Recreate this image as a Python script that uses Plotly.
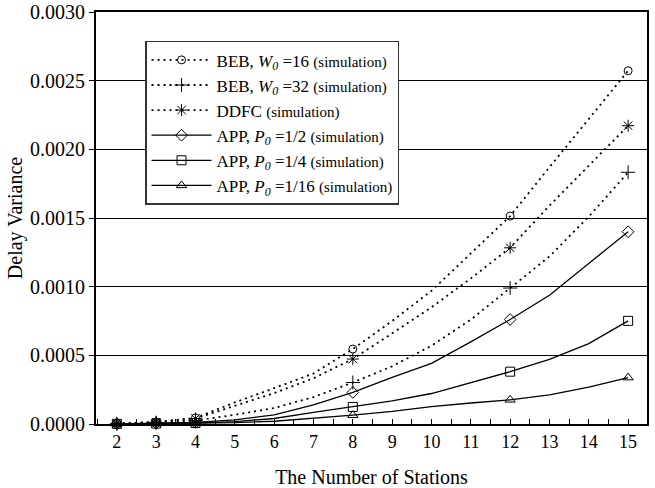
import plotly.graph_objects as go

stations = [2, 3, 4, 5, 6, 7, 8, 9, 10, 11, 12, 13, 14, 15]
marker_stations = [2, 3, 4, 8, 12, 15]

beb16 = [0.000003, 0.000015, 0.000045, 0.000157, 0.000261, 0.000368, 0.000546, 0.00075, 0.00097, 0.00124, 0.001514, 0.00187, 0.00222, 0.002572]
beb32 = [0.000002, 0.00001, 0.000025, 0.000067, 0.000116, 0.000196, 0.000302, 0.00042, 0.00057, 0.00076, 0.00099, 0.00122, 0.00151, 0.001833]
ddfc = [0.000003, 0.000013, 0.00004, 0.000133, 0.000225, 0.000333, 0.000473, 0.00066, 0.00085, 0.00106, 0.001283, 0.00159, 0.00188, 0.002172]
app2 = [0.000001, 0.000005, 0.000012, 0.00003, 0.000067, 0.00014, 0.00023, 0.00034, 0.000441, 0.000598, 0.000761, 0.000938, 0.00117, 0.0014]
app4 = [0.000001, 0.000003, 0.000007, 0.000018, 0.00004, 0.000084, 0.000124, 0.000168, 0.000222, 0.0003, 0.000381, 0.00047, 0.000585, 0.000751]
app16 = [0.0000005, 0.000002, 0.000004, 0.00001, 0.00002, 0.00004, 0.000064, 0.000092, 0.000127, 0.000153, 0.000176, 0.000212, 0.000268, 0.000338]

names = [
    "BEB, <i>W<sub>0</sub></i> =16 <span style='font-size:15px'>(simulation)</span>",
    "BEB, <i>W<sub>0</sub></i> =32 <span style='font-size:15px'>(simulation)</span>",
    "DDFC <span style='font-size:15px'>(simulation)</span>",
    "APP, <i>P<sub>0</sub></i> =1/2 <span style='font-size:15px'>(simulation)</span>",
    "APP, <i>P<sub>0</sub></i> =1/4 <span style='font-size:15px'>(simulation)</span>",
    "APP, <i>P<sub>0</sub></i> =1/16 <span style='font-size:15px'>(simulation)</span>",
]
series = [beb16, beb32, ddfc, app2, app4, app16]
symbols = ["circle-open", "cross-thin-open", "asterisk-open", "diamond-open", "square-open", "triangle-up-open"]
dashes = ["2px,4px", "2px,4px", "2px,4px", "solid", "solid", "solid"]
sizes = [8, 10, 10, 9, 9, 9]

fig = go.Figure()
for name, ys, sym, dash, sz in zip(names, series, symbols, dashes, sizes):
    lw = 1.3 if dash == "solid" else 1.8
    fig.add_trace(go.Scatter(x=stations, y=ys, mode="lines", showlegend=False,
                             line=dict(color="black", width=lw, dash=dash),
                             hoverinfo="skip"))
    mx = [s for s in stations if s in marker_stations]
    my = [v for s, v in zip(stations, ys) if s in marker_stations]
    fig.add_trace(go.Scatter(x=mx, y=my, mode="markers", showlegend=False, cliponaxis=False,
                             marker=dict(symbol=sym, size=sz, color="black",
                                         line=dict(color="black", width=1))))
    fig.add_trace(go.Scatter(x=[None], y=[None], mode="lines+markers", name=name,
                             line=dict(color="black", width=lw, dash=dash),
                             marker=dict(symbol=sym, size=sz, color="black",
                                         line=dict(color="black", width=1))))

font_family = "Liberation Serif"
fig.update_layout(
    width=655, height=488,
    margin=dict(l=96, r=8, t=12, b=64),
    plot_bgcolor="white", paper_bgcolor="white",
    font=dict(family=font_family, size=18, color="black"),
    legend=dict(x=0.089, y=0.93, xanchor="left", yanchor="top",
                bgcolor="white", bordercolor="#333", borderwidth=1.5,
                font=dict(family=font_family, size=17, color="black"),
                itemwidth=60, tracegroupgap=0),
    xaxis=dict(range=[1.47, 15.48], tickvals=list(range(2, 16)),
               ticks="inside", ticklen=5, tickcolor="black",
               minor=dict(dtick=0.5, tick0=0, ticks="inside", ticklen=5, tickcolor="black"),
               showgrid=False, zeroline=False, automargin=False,
               showline=True, linecolor="black", linewidth=2, mirror=True,
               title=dict(text="The Number of Stations", standoff=20,
                          font=dict(family=font_family, size=20)),
               tickfont=dict(family=font_family, size=18)),
    yaxis=dict(range=[0, 0.003], dtick=0.0005, tickformat=".4f",
               ticks="outside", ticklen=5, tickcolor="black",
               showgrid=True, gridcolor="black", gridwidth=1, zeroline=False, automargin=False,
               showline=True, linecolor="black", linewidth=2, mirror=True,
               title=dict(text="Delay Variance", standoff=2,
                          font=dict(family=font_family, size=20)),
               tickfont=dict(family=font_family, size=20)),
)

fig.write_html("out.html")
